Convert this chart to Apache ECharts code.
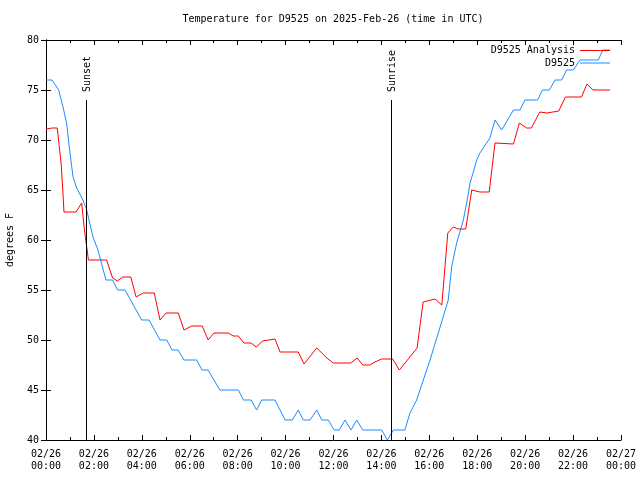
<!DOCTYPE html>
<html>
<head>
<meta charset="utf-8">
<script src="https://cdn.jsdelivr.net/npm/echarts@6/dist/echarts.min.js"></script>
<style>
html,body{margin:0;padding:0;background:#fff;}
#chart{width:640px;height:480px;}
</style>
</head>
<body>
<div id="chart"></div>
<script>
// ---- data (x in hours since 2025-02-26 00:00 UTC) ----
var analysisTimes = [0, 0.26, 0.47, 0.56, 0.63, 0.70, 0.75, 1.25, 1.49, 1.56, 1.63, 1.70, 1.77, 2.53, 2.78, 2.98, 3.20, 3.54, 3.76, 4.06, 4.52, 4.76, 5.01, 5.52, 5.76, 6.08, 6.52, 6.77, 7.01, 7.61, 7.82, 8.03, 8.26, 8.56, 8.77, 9.05, 9.56, 9.77, 10.53, 10.77, 11.30, 11.72, 11.99, 12.34, 12.72, 12.99, 13.22, 13.52, 13.73, 14.01, 14.47, 14.75, 15.49, 15.74, 16.24, 16.52, 16.77, 17.00, 17.20, 17.52, 17.77, 18.11, 18.50, 18.74, 19.51, 19.76, 20.06, 20.26, 20.61, 20.91, 21.40, 21.68, 22.35, 22.42, 22.58, 22.83, 23.54];
var analysisValues = [71.1, 71.2, 71.2, 69.2, 67.7, 65.0, 62.8, 62.8, 63.7, 62.0, 60.5, 59.3, 58.0, 58.0, 56.2, 55.9, 56.3, 56.3, 54.3, 54.7, 54.7, 52.0, 52.7, 52.7, 51.0, 51.4, 51.4, 50.0, 50.7, 50.7, 50.4, 50.4, 49.7, 49.7, 49.3, 49.9, 50.1, 48.8, 48.8, 47.6, 49.2, 48.2, 47.7, 47.7, 47.7, 48.2, 47.5, 47.5, 47.8, 48.1, 48.1, 47.0, 49.2, 53.8, 54.1, 53.5, 60.7, 61.3, 61.1, 61.1, 65.0, 64.8, 64.8, 69.7, 69.6, 71.7, 71.2, 71.2, 72.8, 72.7, 72.9, 74.3, 74.3, 74.2, 75.6, 75.0, 75.0];

var obsTimes = [0, 0.25, 0.53, 0.71, 0.86, 1.00, 1.13, 1.28, 1.54, 1.70, 1.96, 2.17, 2.50, 2.78, 2.99, 3.30, 3.99, 4.30, 4.76, 5.04, 5.26, 5.51, 5.76, 6.29, 6.51, 6.76, 7.26, 8.03, 8.24, 8.56, 8.79, 9.00, 9.56, 9.98, 10.28, 10.53, 10.74, 11.02, 11.30, 11.51, 11.78, 12.03, 12.24, 12.48, 12.73, 12.97, 13.22, 14.01, 14.25, 14.50, 14.98, 15.19, 15.47, 16.03, 16.45, 16.79, 16.93, 17.14, 17.42, 17.58, 17.70, 17.98, 18.11, 18.53, 18.74, 19.02, 19.51, 19.78, 19.99, 20.52, 20.72, 21.01, 21.25, 21.52, 21.73, 22.01, 22.29, 23.05, 23.24, 23.54];
var obsValues = [76, 76, 75, 73.3, 71.7, 68.7, 66.3, 65.2, 64, 63, 60.3, 59, 56, 56, 55, 55, 52, 52, 50, 50, 49, 49, 48, 48, 47, 47, 45, 45, 44, 44, 43, 44, 44, 42, 42, 43, 42, 42, 43, 42, 42, 41, 41, 42, 41, 42, 41, 41, 40, 41, 41, 42.7, 44, 48, 51.3, 54, 57.3, 59.7, 62, 64, 65.7, 68, 68.7, 70.2, 72, 71, 73, 73, 74, 74, 75, 75, 76, 76, 77, 77, 78, 78, 79, 79];

var sunTimes = [1.67, 14.40];
var sunLabels = ['Sunset', 'Sunrise'];

var xTickLabels = ['02/26\n00:00', '02/26\n02:00', '02/26\n04:00', '02/26\n06:00', '02/26\n08:00', '02/26\n10:00', '02/26\n12:00', '02/26\n14:00', '02/26\n16:00', '02/26\n18:00', '02/26\n20:00', '02/26\n22:00', '02/27\n00:00'];
var seriesNames = ['D9525 Analysis', 'D9525'];
var titleText = 'Temperature for D9525 on 2025-Feb-26 (time in UTC)';
var yName = 'degrees F';

function zip(a, b) { return a.map(function (t, i) { return [t, b[i]]; }); }

var FONT = 'DejaVu Sans Mono';
var txt = { fontFamily: FONT, fontSize: 10, color: '#000' };

var chart = echarts.init(document.getElementById('chart'), null, { renderer: 'canvas' });

var xBase = {
  type: 'value', min: 0, max: 24, interval: 2,
  axisLine: { show: true, lineStyle: { color: '#000', width: 1 } },
  axisTick: { show: true, inside: true, length: 5, lineStyle: { color: '#000' } },
  minorTick: { show: true, splitNumber: 2, length: 3, lineStyle: { color: '#000' } },
  splitLine: { show: false }, minorSplitLine: { show: false }
};
var yBase = {
  type: 'value', min: 40, max: 80, interval: 5,
  axisLine: { show: true, lineStyle: { color: '#000', width: 1 } },
  axisTick: { show: true, inside: true, length: 5, lineStyle: { color: '#000' } },
  splitLine: { show: false }
};

var option = {
  animation: false,
  backgroundColor: '#fff',
  title: {
    text: titleText, left: 333, top: 14, textAlign: 'center', padding: 0,
    textStyle: { fontFamily: FONT, fontSize: 10, fontWeight: 'normal', color: '#000' }
  },
  legend: [
    { data: [seriesNames[0]], right: 30, top: 45.5, align: 'right', padding: 0,
      icon: 'rect', itemWidth: 30, itemHeight: 1, textStyle: txt },
    { data: [seriesNames[1]], right: 30, top: 58, align: 'right', padding: 0,
      icon: 'rect', itemWidth: 30, itemHeight: 1, textStyle: txt }
  ],
  grid: { left: 46, right: 19, top: 40, bottom: 40, containLabel: false, outerBoundsMode: 'none' },
  xAxis: [
    Object.assign({}, xBase, {
      position: 'bottom',
      axisLabel: Object.assign({}, txt, {
        margin: 8, lineHeight: 12,
        formatter: function (v) { return xTickLabels[Math.round(v / 2)]; }
      })
    }),
    Object.assign({}, xBase, { position: 'top', axisLabel: { show: false } })
  ],
  yAxis: [
    Object.assign({}, yBase, {
      position: 'left',
      name: yName, nameLocation: 'middle', nameGap: 31, nameRotate: 90,
      nameTextStyle: txt,
      axisLabel: Object.assign({}, txt, { margin: 7 })
    }),
    Object.assign({}, yBase, { position: 'right', axisLabel: { show: false } })
  ],
  series: [
    {
      name: seriesNames[0], type: 'line', data: zip(analysisTimes, analysisValues),
      showSymbol: false, symbol: 'none', color: '#ff0000',
      lineStyle: { width: 1, color: '#ff0000' },
      markLine: {
        silent: true, symbol: 'none', animation: false,
        lineStyle: { color: '#000', width: 1, type: 'solid' },
        label: { show: false },
        data: sunTimes.map(function (t) { return [{ coord: [t, 40] }, { coord: [t, 74] }]; })
      },
      markPoint: {
        silent: true, symbolSize: 0, animation: false,
        label: Object.assign({}, txt, {
          show: true, position: 'inside', rotate: 90, align: 'left', verticalAlign: 'middle',
          formatter: function (p) { return p.name; }
        }),
        data: sunTimes.map(function (t, i) { return { name: sunLabels[i], coord: [t + 0.06, 74.8] }; })
      },
      z: 2
    },
    {
      name: seriesNames[1], type: 'line', data: zip(obsTimes, obsValues),
      showSymbol: false, symbol: 'none', color: '#1a8cff',
      lineStyle: { width: 1, color: '#1a8cff' },
      z: 3
    }
  ]
};
chart.setOption(option);
</script>
</body>
</html>
